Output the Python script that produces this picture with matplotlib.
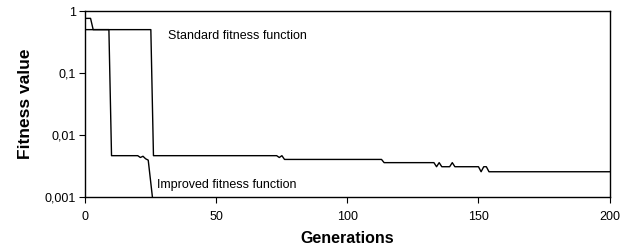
import matplotlib
matplotlib.use("Agg")
import matplotlib.pyplot as plt
from matplotlib.ticker import FixedLocator, FixedFormatter, NullLocator

plt.rcParams['font.family'] = ['Liberation Sans', 'DejaVu Sans']

# Standard fitness function (generation, fitness value)
std_gen = [0, 2, 3, 25, 26, 73, 74, 75, 76, 113, 114, 133, 134, 135, 136, 139, 140, 141, 150, 151, 152, 153, 154, 200]
std_val = [0.76, 0.76, 0.5, 0.5, 0.0046, 0.0046, 0.0043, 0.0046, 0.0040, 0.0040, 0.00355, 0.00355, 0.00305,
           0.00355, 0.00305, 0.00305, 0.00355, 0.00305, 0.00305, 0.00253, 0.00305, 0.00305, 0.00253, 0.00253]

# Improved fitness function
imp_gen = [0, 9, 10, 20, 21, 22, 23, 24, 26]
imp_val = [0.5, 0.5, 0.0046, 0.0046, 0.0043, 0.0045, 0.0041, 0.0039, 0.0007]

xticks = [0, 50, 100, 150, 200]
yticks = [0.001, 0.01, 0.1, 1]
ytick_labels = ["0,001", "0,01", "0,1", "1"]

fig = plt.figure(figsize=(6.31, 2.5), dpi=100)
ax = fig.add_axes([0.1352, 0.2132, 0.966 - 0.1352, 0.956 - 0.2132])

ax.plot(std_gen, std_val, color='black', lw=1.0)
ax.plot(imp_gen, imp_val, color='black', lw=1.0)

ax.set_yscale('log')
ax.set_xlim(0, 200)
ax.set_ylim(0.001, 1)
ax.xaxis.set_major_locator(FixedLocator(xticks))
ax.yaxis.set_major_locator(FixedLocator(yticks))
ax.yaxis.set_major_formatter(FixedFormatter(ytick_labels))
ax.yaxis.set_minor_locator(NullLocator())
ax.tick_params(axis='both', direction='out', length=4, width=0.8, labelsize=9, colors='black', pad=3)
ax.tick_params(axis='x', pad=6)
for s in ax.spines.values():
    s.set_linewidth(1.0)
    s.set_color('black')

ax.text(31.5, 0.5 * 0.97, "Standard fitness function", fontsize=9, va='top', ha='left')
ax.text(27.5, 0.00155, "Improved fitness function", fontsize=9, va='center', ha='left')

ax.set_xlabel("Generations", fontsize=11.5, fontweight='bold', labelpad=6)
ax.set_ylabel("Fitness value", fontsize=12.5, fontweight='bold', labelpad=8)

fig.savefig("out.png", dpi=100)
